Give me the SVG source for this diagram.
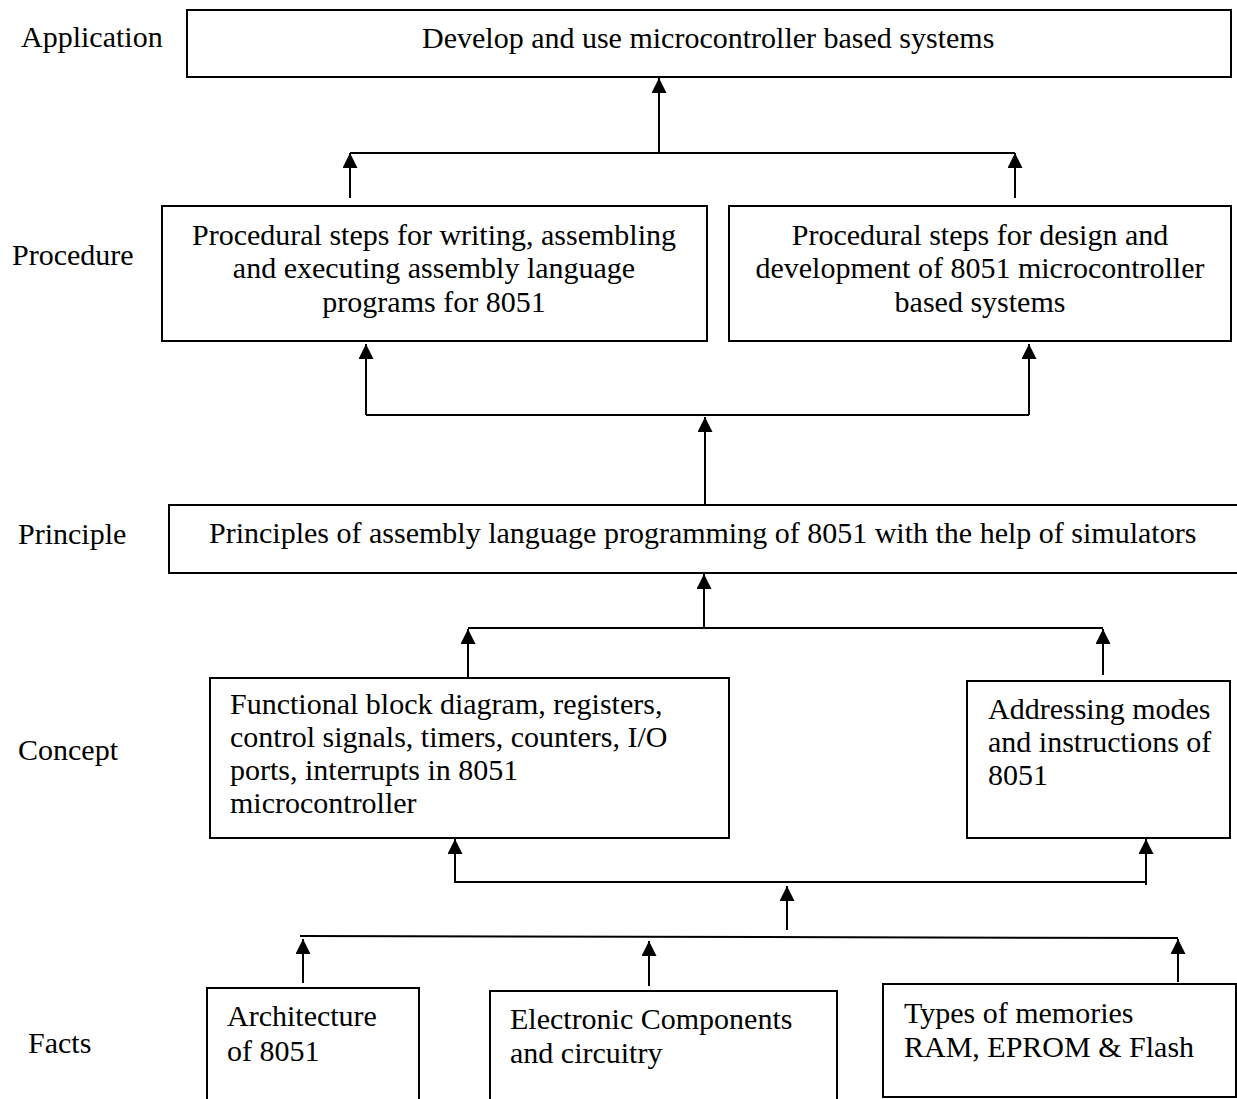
<svg xmlns="http://www.w3.org/2000/svg" width="1237" height="1099" viewBox="0 0 1237 1099">
<style>
.box{fill:#fff;stroke:#000;stroke-width:2}
.t{font-family:"Liberation Serif","Times New Roman",serif;font-size:30px;fill:#000}
.c{text-anchor:middle}
.ln{fill:none;stroke:#000;stroke-width:2}
</style>
<defs>
<marker id="ah" markerUnits="userSpaceOnUse" markerWidth="16" markerHeight="16" refX="15" refY="7.5" orient="auto">
<path d="M0,0 L15,7.5 L0,15 z" fill="#000"/>
</marker>
</defs>
<rect width="1237" height="1099" fill="#fff"/>

<g id="labels">
<text class="t" x="21" y="47">Application</text>
<text class="t" x="12" y="265">Procedure</text>
<text class="t" x="18" y="544">Principle</text>
<text class="t" x="18" y="760">Concept</text>
<text class="t" x="28" y="1053">Facts</text>
</g>

<g id="application">
<rect class="box" x="187" y="10" width="1044" height="67"/>
<text class="t" x="422" y="48">Develop and use microcontroller based systems</text>
</g>

<g id="procedure-left">
<rect class="box" x="162" y="206" width="545" height="135"/>
<text class="t c" x="434" y="245">Procedural steps for writing, assembling</text>
<text class="t c" x="434" y="278">and executing assembly language</text>
<text class="t c" x="434" y="312">programs for 8051</text>
</g>

<g id="procedure-right">
<rect class="box" x="729" y="206" width="502" height="135"/>
<text class="t c" x="980" y="245">Procedural steps for design and</text>
<text class="t c" x="980" y="278">development of 8051 microcontroller</text>
<text class="t c" x="980" y="312">based systems</text>
</g>

<g id="principle">
<rect class="box" x="169" y="505" width="1072" height="68"/>
<text class="t" x="209" y="543">Principles of assembly language programming of 8051 with the help of simulators</text>
</g>

<g id="concept-left">
<rect class="box" x="210" y="678" width="519" height="160"/>
<text class="t" x="230" y="714">Functional block diagram, registers,</text>
<text class="t" x="230" y="747">control signals, timers, counters, I/O</text>
<text class="t" x="230" y="780">ports, interrupts in 8051</text>
<text class="t" x="230" y="813">microcontroller</text>
</g>

<g id="concept-right">
<rect class="box" x="967" y="681" width="263" height="157"/>
<text class="t" x="988" y="719">Addressing modes</text>
<text class="t" x="988" y="752">and instructions of</text>
<text class="t" x="988" y="785">8051</text>
</g>

<g id="facts-architecture">
<path class="ln" d="M207,1105 V988 H419 V1105"/>
<text class="t" x="227" y="1026">Architecture</text>
<text class="t" x="227" y="1061">of 8051</text>
</g>

<g id="facts-electronic">
<path class="ln" d="M490,1105 V991 H837 V1105"/>
<text class="t" x="510" y="1029">Electronic Components</text>
<text class="t" x="510" y="1063">and circuitry</text>
</g>

<g id="facts-memories">
<rect class="box" x="883" y="984" width="353" height="113"/>
<text class="t" x="904" y="1023">Types of memories</text>
<text class="t" x="904" y="1057">RAM, EPROM &amp; Flash</text>
</g>

<g id="connectors">
<!-- procedure to application -->
<line class="ln" x1="350" y1="153" x2="1015" y2="153"/>
<line class="ln" x1="659" y1="153" x2="659" y2="78" marker-end="url(#ah)"/>
<line class="ln" x1="350" y1="198" x2="350" y2="153" marker-end="url(#ah)"/>
<line class="ln" x1="1015" y1="198" x2="1015" y2="153" marker-end="url(#ah)"/>
<!-- principle to procedure -->
<line class="ln" x1="366" y1="415" x2="1029" y2="415"/>
<line class="ln" x1="366" y1="415" x2="366" y2="344" marker-end="url(#ah)"/>
<line class="ln" x1="1029" y1="415" x2="1029" y2="344" marker-end="url(#ah)"/>
<line class="ln" x1="705" y1="505" x2="705" y2="417" marker-end="url(#ah)"/>
<!-- concept to principle -->
<line class="ln" x1="468" y1="628" x2="1103" y2="628"/>
<line class="ln" x1="704" y1="628" x2="704" y2="574" marker-end="url(#ah)"/>
<line class="ln" x1="468" y1="677" x2="468" y2="629" marker-end="url(#ah)"/>
<line class="ln" x1="1103" y1="675" x2="1103" y2="629" marker-end="url(#ah)"/>
<!-- facts to concept -->
<line class="ln" x1="454" y1="882" x2="1146" y2="882"/>
<line class="ln" x1="455" y1="882" x2="455" y2="839" marker-end="url(#ah)"/>
<line class="ln" x1="1146" y1="885" x2="1146" y2="839" marker-end="url(#ah)"/>
<line class="ln" x1="787" y1="930" x2="787" y2="886" marker-end="url(#ah)"/>
<!-- facts junction -->
<line class="ln" x1="300" y1="936" x2="1178" y2="938"/>
<line class="ln" x1="303" y1="983" x2="303" y2="939" marker-end="url(#ah)"/>
<line class="ln" x1="649" y1="986" x2="649" y2="941" marker-end="url(#ah)"/>
<line class="ln" x1="1178" y1="982" x2="1178" y2="939" marker-end="url(#ah)"/>
</g>
</svg>
